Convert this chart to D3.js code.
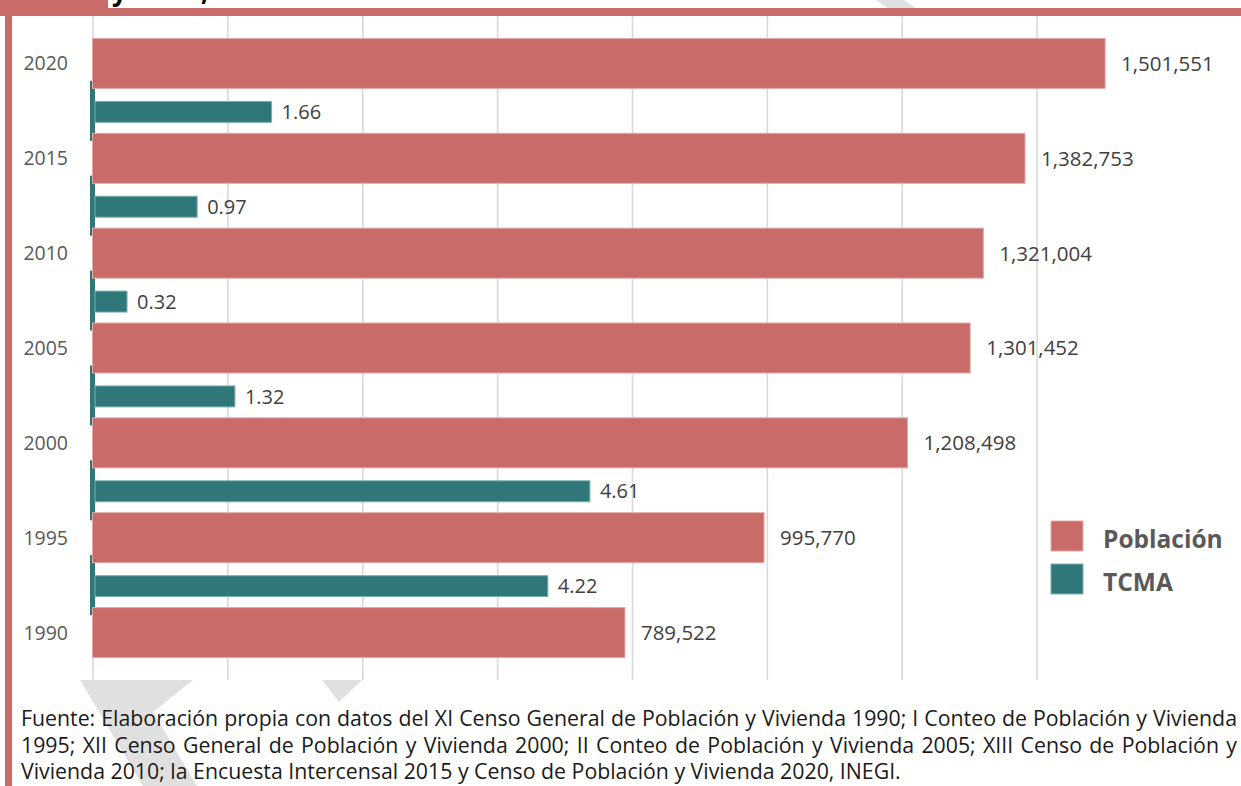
<!DOCTYPE html>
<html>
<head>
<meta charset="utf-8">
<script src="https://cdn.jsdelivr.net/npm/d3@7"></script>
<style>
  html, body { margin: 0; padding: 0; background: #ffffff; }
  svg { display: block; }
</style>
</head>
<body>
<svg id="chart" width="1241" height="786"></svg>
<script>
// ---- data ----
const years = ["2020", "2015", "2010", "2005", "2000", "1995", "1990"];
const poblacion = [1501551, 1382753, 1321004, 1301452, 1208498, 995770, 789522];
const periods = ["2015-2020", "2010-2015", "2005-2010", "2000-2005", "1995-2000", "1990-1995"];
const tcma = [1.66, 0.97, 0.32, 1.32, 4.61, 4.22];
const popTicks = [0, 200000, 400000, 600000, 800000, 1000000, 1200000, 1400000];
const legendLabels = ["Población", "TCMA"];
const footLines = [
  "Fuente: Elaboración propia con datos del XI Censo General de Población y Vivienda 1990; I Conteo de Población y Vivienda",
  "1995; XII Censo General de Población y Vivienda 2000; II Conteo de Población y Vivienda 2005; XIII Censo de Población y",
  "Vivienda 2010; la Encuesta Intercensal 2015 y Censo de Población y Vivienda 2020, INEGI."
];

const popColor = "#C86B69";
const tcmaColor = "#30777A";
const svg = d3.select("#chart");

// ---- watermark fragments (background) ----
const wm = svg.append("g").attr("fill", "#e0e0e0");
[
  [[80,680],[193,680],[153,712],[197,786],[143,786]],
  [[322,680],[362,680],[339,702]],
  [[876,0],[904,0],[917,9],[889,9]]
].forEach(p => wm.append("polygon").attr("points", p.map(d => d.join(",")).join(" ")));

// ---- frame (title text is cropped at the top in the original) ----
svg.append("text").attr("x", 112).attr("y", 1).attr("font-family", "Open Sans")
  .attr("font-weight", "bold").attr("font-size", 26).attr("fill", "#000").text("y");
svg.append("text").attr("x", 201).attr("y", 1).attr("font-family", "Open Sans")
  .attr("font-weight", "bold").attr("font-size", 26).attr("fill", "#000").text(",");
svg.append("rect").attr("x", 0).attr("y", 0).attr("width", 108).attr("height", 16).attr("fill", popColor);
svg.append("rect").attr("x", 0).attr("y", 8).attr("width", 1241).attr("height", 8).attr("fill", popColor);
svg.append("rect").attr("x", 5).attr("y", 0).attr("width", 7).attr("height", 786).attr("fill", popColor);

// ---- scales ----
const plotTop = 16, plotBottom = 680;
const x = d3.scaleLinear().domain([0, 1600000]).range([92.5, 1171.5]);
const xT = d3.scaleLinear().domain([0, 10]).range([92.5, 1171.5]);
const y = d3.scalePoint().domain(years).range([plotTop, plotBottom]).padding(0.5);
const yT = d3.scalePoint().domain(periods).range([plotTop + y.step(), plotBottom - y.step()]);

// ---- gridlines ----
const grid = svg.append("g")
  .attr("transform", `translate(0,${plotBottom})`)
  .call(d3.axisBottom(x).tickValues(popTicks).tickSize(-(plotBottom - plotTop)).tickFormat(""));
grid.select(".domain").remove();
grid.selectAll("line").attr("stroke", "#d9d9d9").attr("stroke-width", 1.6);

// ---- TCMA axis segments ----
svg.append("g").selectAll("rect").data(periods).join("rect")
  .attr("x", 90).attr("width", 5)
  .attr("y", d => yT(d) - 30).attr("height", 60)
  .attr("fill", tcmaColor);

// ---- Población bars ----
const popH = 50;
svg.append("g").selectAll("rect").data(years).join("rect")
  .attr("x", x(0)).attr("y", d => y(d) - popH / 2)
  .attr("width", (d, i) => x(poblacion[i]) - x(0)).attr("height", popH)
  .attr("fill", popColor).attr("stroke", "#e3a9a7").attr("stroke-width", 1);

// ---- TCMA bars ----
const tH = 21;
svg.append("g").selectAll("rect").data(periods).join("rect")
  .attr("x", 95).attr("y", d => yT(d) - tH / 2 + 1)
  .attr("width", (d, i) => xT(tcma[i]) - 95).attr("height", tH)
  .attr("fill", tcmaColor).attr("stroke", "#7fb0b0").attr("stroke-width", 1);

// ---- labels ----
const fmt = d3.format(",");
svg.append("g").selectAll("text").data(years).join("text")
  .attr("x", (d, i) => x(poblacion[i]) + 16).attr("y", d => y(d)).attr("dy", "0.36em")
  .attr("font-family", "Open Sans").attr("font-size", 20.5).attr("fill", "#404040")
  .text((d, i) => fmt(poblacion[i]));
svg.append("g").selectAll("text").data(periods).join("text")
  .attr("x", (d, i) => xT(tcma[i]) + 10).attr("y", d => yT(d) + 1).attr("dy", "0.36em")
  .attr("font-family", "Open Sans").attr("font-size", 20).attr("fill", "#404040")
  .text((d, i) => tcma[i].toFixed(2));
svg.append("g").selectAll("text").data(years).join("text")
  .attr("x", 68).attr("y", d => y(d)).attr("dy", "0.36em").attr("text-anchor", "end")
  .attr("font-family", "Open Sans").attr("font-size", 19.5).attr("fill", "#595959")
  .text(d => d);

// ---- legend ----
const lg = svg.append("g");
[popColor, tcmaColor].forEach((c, i) => {
  lg.append("rect").attr("x", 1051).attr("y", 521 + i * 43).attr("width", 32).attr("height", 30)
    .attr("fill", c).attr("stroke", i === 0 ? "#e3a9a7" : "#7fb0b0").attr("stroke-width", 1);
  lg.append("text").attr("x", 1103).attr("y", 548 + i * 43)
    .attr("font-family", "Open Sans").attr("font-weight", "bold").attr("font-size", 24.5)
    .attr("fill", "#595959").text(legendLabels[i]);
});

// ---- footnote (justified) ----
const fg = svg.append("g");
const probe = fg.append("text").attr("font-family", "Open Sans").attr("font-size", 20)
  .text(footLines[2]);
const fs = 20 * 880 / probe.node().getComputedTextLength();
probe.remove();
footLines.forEach((t, i) => {
  const el = fg.append("text").attr("x", 21).attr("y", 726 + i * 26.5)
    .attr("font-family", "Open Sans").attr("font-size", fs).attr("fill", "#1a1a1a").text(t);
  if (i < footLines.length - 1) {
    const w = el.node().getComputedTextLength();
    const spaces = (t.match(/ /g) || []).length;
    el.attr("word-spacing", (1237 - 21 - w) / spaces);
  }
});
</script>
</body>
</html>
